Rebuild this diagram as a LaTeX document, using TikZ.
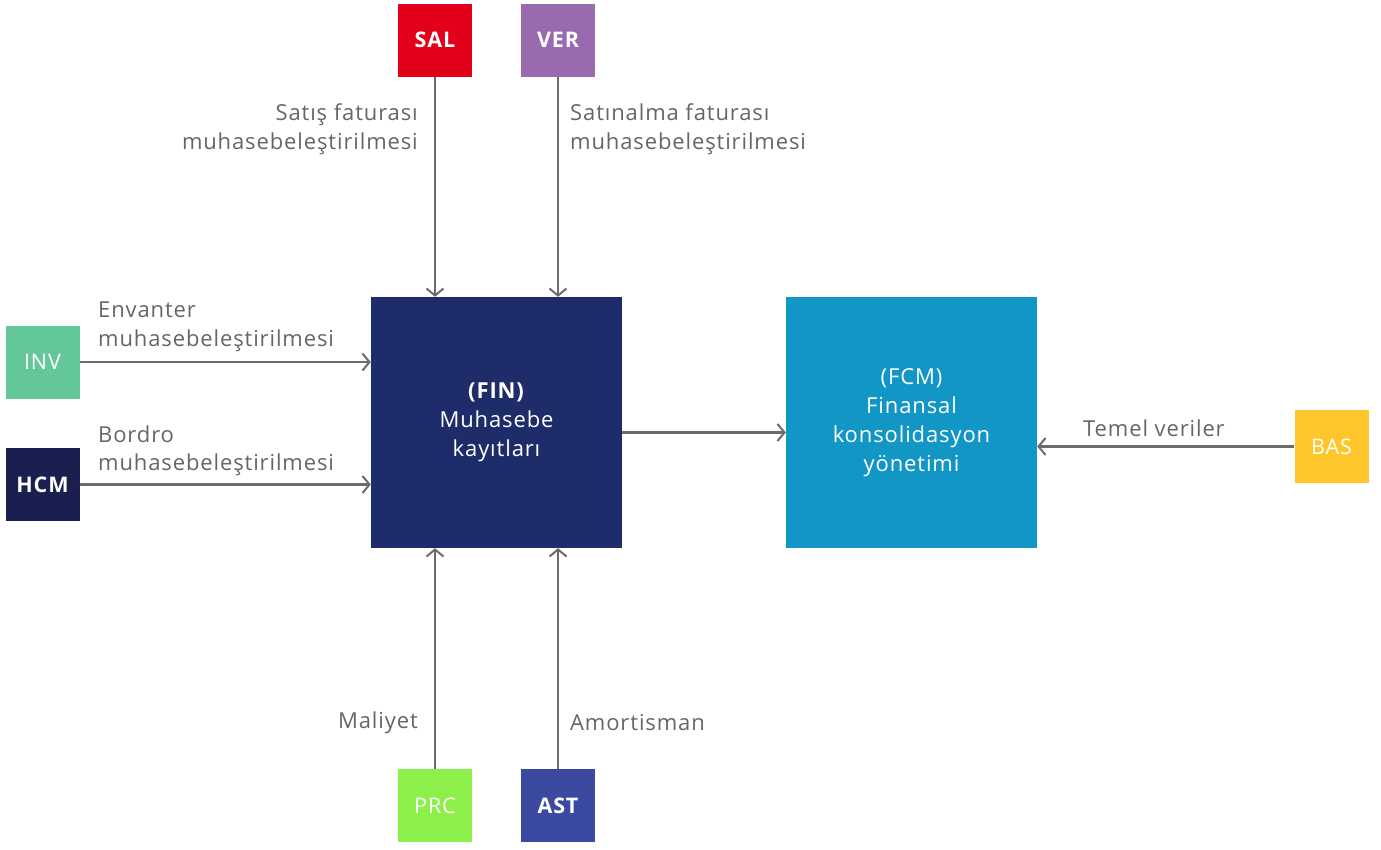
\documentclass[tikz,border=0pt]{standalone}
\usepackage{fontspec}
\setmainfont{Open Sans}
\newfontfamily\lblfont{Open Sans}[LetterSpace=4]
\usetikzlibrary{arrows.meta}
\definecolor{salc}{HTML}{E2001A}
\definecolor{verc}{HTML}{9A6AAE}
\definecolor{invc}{HTML}{64C79A}
\definecolor{hcmc}{HTML}{1B1F4F}
\definecolor{finc}{HTML}{1E2D6A}
\definecolor{fcmc}{HTML}{1296C6}
\definecolor{basc}{HTML}{FFC62B}
\definecolor{prcc}{HTML}{8DF04A}
\definecolor{astc}{HTML}{3B4AA0}
\definecolor{arrc}{HTML}{6B6B6B}
\definecolor{txtc}{HTML}{666666}
\begin{document}
\begin{tikzpicture}[x=1pt,y=-1pt,
  modbox/.style={rectangle, minimum width=74pt, minimum height=73pt, inner sep=0pt,
    text=white, font=\lblfont\fontsize{21.5}{25}\selectfont\bfseries},
  modlight/.style={modbox, font=\lblfont\fontsize{21.5}{25}\selectfont},
  bigbox/.style={rectangle, minimum width=251pt, minimum height=251pt, inner sep=0pt,
    text=white, align=center, font=\lblfont\fontsize{22}{29}\selectfont},
  lbl/.style={text=txtc, inner sep=0pt, font=\lblfont\fontsize{22}{28.5}\selectfont},
  arr/.style={draw=arrc, line width=2.4pt, -{Straight Barb[length=7pt,width=17pt,line width=2pt]}}
]
\useasboundingbox (0,0) rectangle (1381,849);
% module boxes
\node[modbox, fill=salc] (SAL) at (435,40) {SAL};
\node[modbox, fill=verc] (VER) at (558,40) {VER};
\node[modlight, fill=invc] (INV) at (42.5,362) {INV};
\node[modbox, fill=hcmc] (HCM) at (42.5,484.5) {HCM};
\node[modlight, fill=basc] (BAS) at (1331.5,446.5) {BAS};
\node[modlight, fill=prcc] (PRC) at (435,805.5) {PRC};
\node[modbox, fill=astc] (AST) at (558,805.5) {AST};
% main boxes
\node[bigbox, fill=finc] (FIN) at (496.5,422.5) {\textbf{(FIN)}\\Muhasebe\\kayıtları};
\node[bigbox, fill=fcmc] (FCM) at (911.5,422.5) {(FCM)\\Finansal\\konsolidasyon\\yönetimi};
% connectors
\draw[arr] (SAL.south) -- (SAL.south |- FIN.north);
\draw[arr] (VER.south) -- (VER.south |- FIN.north);
\draw[arr] (INV.east) -- (INV.east -| FIN.west);
\draw[arr] (HCM.east) -- (HCM.east -| FIN.west);
\draw[arr] (PRC.north) -- (PRC.north |- FIN.south);
\draw[arr] (AST.north) -- (AST.north |- FIN.south);
\draw[arr] ([yshift=-10pt]FIN.east) -- ([yshift=-10pt]FCM.west);
\draw[arr] (BAS.west) -- (BAS.west -| FCM.east);
% labels
\node[lbl, anchor=east, align=right] (lsal) at (418,129) {Satış faturası\\muhasebeleştirilmesi};
\node[lbl, anchor=west, align=left] (lver) at (570,129) {Satınalma faturası\\muhasebeleştirilmesi};
\node[lbl, anchor=west, align=left] (linv) at (98,327) {Envanter\\muhasebeleştirilmesi};
\node[lbl, anchor=west, align=left] (lhcm) at (98,451) {Bordro\\muhasebeleştirilmesi};
\node[lbl, anchor=west] (lbas) at (1083,428) {Temel veriler};
\node[lbl, anchor=east] (lprc) at (418,723) {Maliyet};
\node[lbl, anchor=west] (last) at (570,723) {Amortisman};
\end{tikzpicture}
\end{document}
